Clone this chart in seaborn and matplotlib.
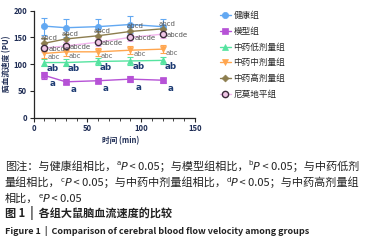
import matplotlib
matplotlib.use("Agg")
import matplotlib.pyplot as plt
from matplotlib.ticker import MultipleLocator
import seaborn as sns

# data
times = [10, 30, 60, 90, 120]
groups = ["健康组", "模型组", "中药低剂量组", "中药中剂量组", "中药高剂量组", "尼莫地平组"]
health = [171, 168, 170, 174, 170]
health_err = [16, 17, 15, 15, 15]
model = [79, 67, 69, 72, 70]
model_err = [6, 5, 5, 5, 5]
low = [103, 103, 105, 106, 107]
low_err = [7, 7, 6, 7, 7]
mid = [120, 123, 123, 126, 128]
mid_err = [8, 8, 7, 7, 7]
high = [139, 147, 153, 161, 166]
high_err = [10, 9, 9, 8, 8]
nimo = [130, 134, 141, 150, 156]
nimo_err = [7, 7, 7, 7, 7]
sig_labels = ["", "a", "ab", "abc", "abcd", "abcde"]

values = [health, model, low, mid, high, nimo]
errors = [health_err, model_err, low_err, mid_err, high_err, nimo_err]

sns.set_style("ticks")
plt.rcParams["font.family"] = ["Noto Sans CJK SC", "DejaVu Sans"]

colors = ["#62a8f2", "#b652d6", "#55e3a0", "#ffa64f", "#8c7d4e", "#f3b6ee"]
markers = ["o", "s", "^", "v", "D", "o"]
msizes = [4.5, 5, 4.5, 4.5, 3.5, 4.5]
# text offsets in pixels for the significance letters
offsets = [(0, 0), (5, -8), (2, -6), (3, -4), (-4, 5), (4, -1)]
lab_colors = ["k", "#1d3b73", "#1d3b73", "#6b6b6b", "#5a5a5a", "#555555"]
navy = "#1f2d55"

fig = plt.figure(figsize=(3.77, 2.52), dpi=100)
ax = fig.add_axes([0.089, 0.533, 0.428, 0.425])

for i, g in enumerate(groups):
    c = colors[i]
    ax.errorbar(times, values[i], yerr=errors[i], fmt="none", ecolor=c,
                elinewidth=0.8, capsize=2.5, capthick=0.8, zorder=2)
    mfc, mec = c, c
    if g == "尼莫地平组":
        mfc, mec = "#f0c6e6", "#3b2a3b"
    sns.lineplot(x=times, y=values[i], color=c, marker=markers[i], ms=msizes[i],
                 mfc=mfc, mec=mec, mew=1.0 if g == "尼莫地平组" else 0.5,
                 lw=1.0, label=g, ax=ax, zorder=3)
    if sig_labels[i]:
        for t, v in zip(times, values[i]):
            ax.annotate(sig_labels[i], xy=(t, v), xytext=offsets[i],
                        textcoords="offset pixels", ha="left", va="center",
                        fontsize=5 if len(sig_labels[i]) > 2 else 6.3,
                        fontweight="bold" if len(sig_labels[i]) <= 2 else "normal",
                        color=lab_colors[i], family="DejaVu Sans", zorder=4)

ax.set_xlim(0, 150)
ax.set_ylim(0, 200)
ax.xaxis.set_major_locator(MultipleLocator(50))
ax.xaxis.set_minor_locator(MultipleLocator(10))
ax.yaxis.set_major_locator(MultipleLocator(50))
ax.tick_params(axis="both", which="major", labelsize=5.5, length=3, width=0.8, pad=1.5,
               labelcolor=navy)
ax.tick_params(axis="x", which="minor", length=2, width=0.6)
for lab in ax.get_xticklabels() + ax.get_yticklabels():
    lab.set_fontweight("bold")
for s in ["left", "bottom"]:
    ax.spines[s].set_linewidth(0.9)
sns.despine(ax=ax)
ax.set_xlabel("时间 (min)", fontsize=5.5, fontweight="bold", labelpad=2, color=navy)
ax.xaxis.set_label_coords(0.54, -0.17)
ax.set_ylabel("脑血流速度 (PU)", fontsize=5.5, fontweight="bold", labelpad=2, color=navy)

handles, labels = ax.get_legend_handles_labels()
ax.legend(handles, labels, loc="upper left", bbox_to_anchor=(0.578, 0.962),
          bbox_transform=fig.transFigure, frameon=False, fontsize=6.2,
          handlelength=1.3, handletextpad=0.3, labelspacing=0.78,
          borderpad=0.2, borderaxespad=0)


def rich_line(y, parts, x=0.013):
    # chain text pieces: x follows the previous piece, y follows the first piece
    first = None
    prev = None
    for text, kw in parts:
        sup = kw.pop("sup", False)
        if first is None:
            first = prev = ax.annotate(text, xy=(x, y), xycoords="figure fraction",
                                       ha="left", va="bottom", annotation_clip=False, **kw)
        else:
            prev = ax.annotate(text, xy=(1, 0.5 if sup else 0), xycoords=(prev, first),
                               ha="left", va="bottom", annotation_clip=False, **kw)


cap = dict(fontsize=8, color="#222222")
sup = dict(fontsize=5, color="#222222", family="DejaVu Sans", sup=True)
pit = dict(fontsize=8, color="#222222", family="DejaVu Sans", style="italic")

rich_line(0.318, [("图注：与健康组相比，", dict(cap)), ("a", dict(sup)), ("P", dict(pit)),
                  (" < 0.05；与模型组相比，", dict(cap)), ("b", dict(sup)), ("P", dict(pit)),
                  (" < 0.05；与中药低剂", dict(cap))])
rich_line(0.254, [("量组相比，", dict(cap)), ("c", dict(sup)), ("P", dict(pit)),
                  (" < 0.05；与中药中剂量组相比，", dict(cap)), ("d", dict(sup)), ("P", dict(pit)),
                  (" < 0.05；与中药高剂量组", dict(cap))])
rich_line(0.19, [("相比，", dict(cap)), ("e", dict(sup)), ("P", dict(pit)),
                 (" < 0.05", dict(cap))])
fig.text(0.013, 0.127, "图 1  |  各组大鼠脑血流速度的比较", fontsize=8,
         fontweight="bold", color="#222222", va="bottom")
fig.text(0.013, 0.063, "Figure 1  |  Comparison of cerebral blood flow velocity among groups",
         fontsize=6.5, fontweight="bold", color="#222222", va="bottom")

fig.savefig("out.png", dpi=100)
